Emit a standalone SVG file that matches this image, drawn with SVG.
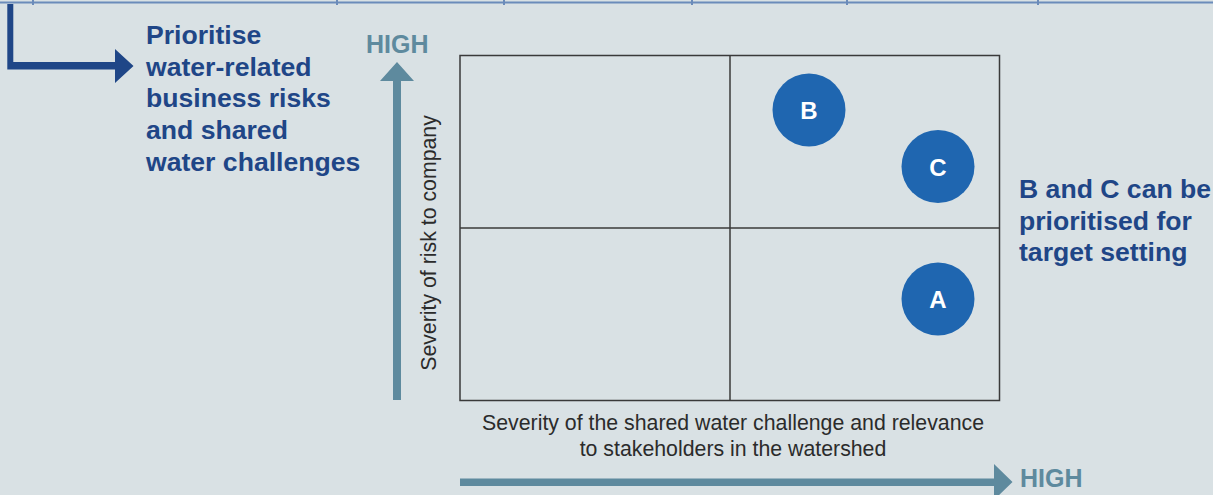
<svg xmlns="http://www.w3.org/2000/svg" width="1213" height="495" viewBox="0 0 1213 495">
<style>
.bg{fill:#d9e1e4}
.rule{stroke:#6b8cba;stroke-width:2;fill:none}
.grid{stroke:#3a3a3a;stroke-width:1.5;fill:none}
.teal{fill:#5e8a9e}
.navy{fill:#1f4687}
.big{font-family:"Liberation Sans",Arial,sans-serif;font-weight:bold;font-size:26.6px;fill:#1f4687}
.high{font-family:"Liberation Sans",Arial,sans-serif;font-weight:bold;font-size:25px;fill:#5e8a9e}
.axis{font-family:"Liberation Sans",Arial,sans-serif;font-size:21.3px;fill:#2b2b2b}
.dot{fill:#1f66b0}
.dotlbl{font-family:"Liberation Sans",Arial,sans-serif;font-weight:bold;font-size:24px;fill:#ffffff;text-anchor:middle}
</style>
<rect class="bg" x="0" y="0" width="1213" height="495"/>
<g id="top-rule">
<line class="rule" x1="0" y1="2.5" x2="1213" y2="2.5"/>
<line class="rule" x1="33" y1="0" x2="33" y2="5" stroke-width="1"/>
<line class="rule" x1="337" y1="0" x2="337" y2="5" stroke-width="1"/>
<line class="rule" x1="504" y1="0" x2="504" y2="5" stroke-width="1"/>
<line class="rule" x1="692" y1="0" x2="692" y2="5" stroke-width="1"/>
<line class="rule" x1="847" y1="0" x2="847" y2="5" stroke-width="1"/>
<line class="rule" x1="1038" y1="0" x2="1038" y2="5" stroke-width="1"/>
</g>
<g id="connectors">
<polygon class="navy" points="7.3,4 13.3,4 13.3,62 115,62 115,49 133.5,66 115,83 115,69.5 7.3,69.5"/>
<polygon class="teal" points="393,400 401,400 401,81 414,81 397,62 380,81 393,81"/>
<polygon class="teal" points="460,478.5 994,478.5 994,464 1012.5,482 994,500 994,486 460,486"/>
</g>
<g id="prioritise-text">
<text class="big" x="146" y="44">Prioritise</text>
<text class="big" x="146" y="75.5">water-related</text>
<text class="big" x="146" y="107">business risks</text>
<text class="big" x="146" y="139">and shared</text>
<text class="big" x="146" y="170.5">water challenges</text>
</g>
<g id="high-labels">
<text class="high" x="366" y="52.5">HIGH</text>
<text class="high" x="1020" y="487">HIGH</text>
</g>
<g id="matrix">
<rect class="grid" x="460" y="55.5" width="539.5" height="345"/>
<line class="grid" x1="730" y1="55.5" x2="730" y2="400.5"/>
<line class="grid" x1="460" y1="228" x2="999.5" y2="228"/>
</g>
<g id="axis-labels">
<text class="axis" transform="translate(436,243) rotate(-90)" text-anchor="middle">Severity of risk to company</text>
<text class="axis" x="733" y="430" text-anchor="middle">Severity of the shared water challenge and relevance</text>
<text class="axis" x="733" y="456" text-anchor="middle">to stakeholders in the watershed</text>
</g>
<g id="node-B">
<circle class="dot" cx="809" cy="110" r="36.5"/>
<text class="dotlbl" x="809" y="119">B</text>
</g>
<g id="node-C">
<circle class="dot" cx="938" cy="166.5" r="36.5"/>
<text class="dotlbl" x="938" y="175.5">C</text>
</g>
<g id="node-A">
<circle class="dot" cx="938" cy="299" r="36.5"/>
<text class="dotlbl" x="938" y="308">A</text>
</g>
<g id="conclusion-text">
<text class="big" x="1019" y="197.5">B and C can be</text>
<text class="big" x="1019" y="229.5">prioritised for</text>
<text class="big" x="1019" y="261">target setting</text>
</g>
</svg>
